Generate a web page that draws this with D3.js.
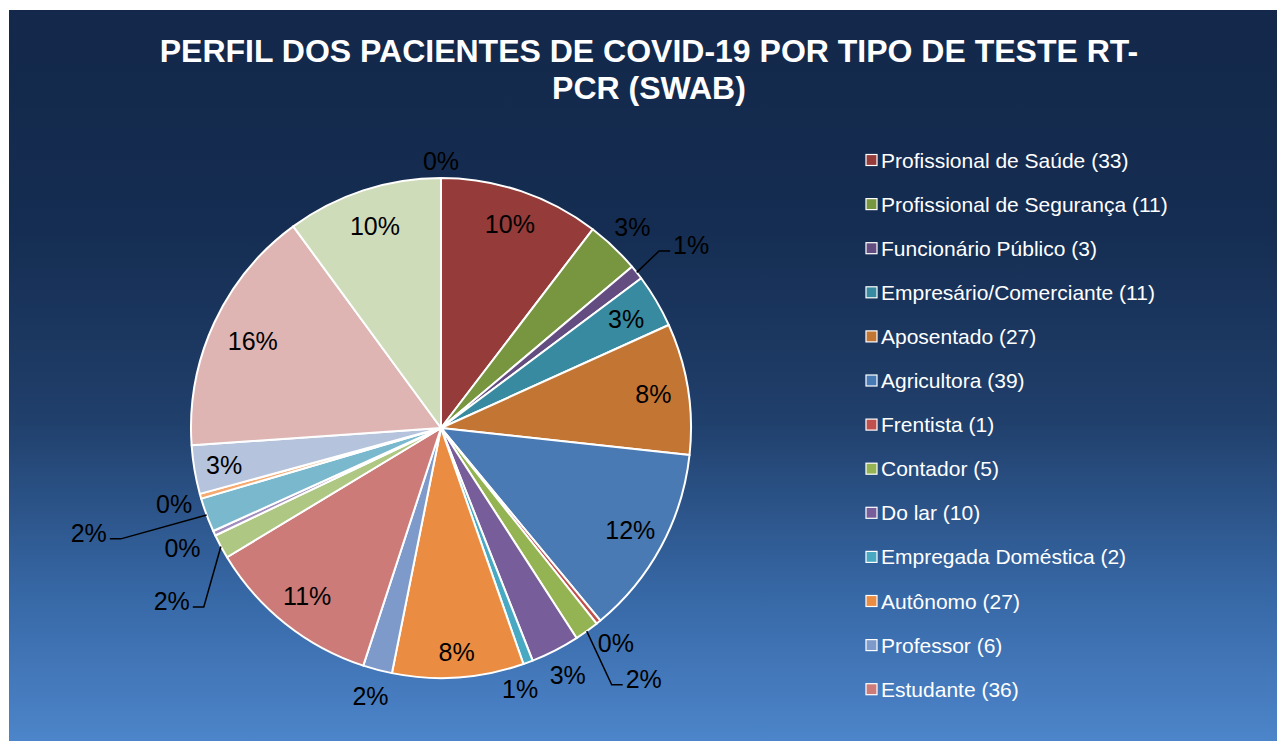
<!DOCTYPE html>
<html>
<head>
<meta charset="utf-8">
<script src="https://cdn.jsdelivr.net/npm/d3@7"></script>
<style>
  html, body { margin: 0; padding: 0; background: #ffffff; }
  svg { display: block; }
  text { font-family: "Liberation Sans", Arial, sans-serif; }
</style>
</head>
<body>
<svg id="chart" width="1278" height="741"></svg>
<script>
// ---- DATA ----
const titleLines = ["PERFIL DOS PACIENTES DE COVID-19 POR TIPO DE TESTE RT-", "PCR (SWAB)"];
const categories = [
  "Profissional de Saúde", "Profissional de Segurança", "Funcionário Público",
  "Empresário/Comerciante", "Aposentado", "Agricultora", "Frentista", "Contador",
  "Do lar", "Empregada Doméstica", "Autônomo", "Professor", "Estudante",
  "Categoria 14", "Categoria 15", "Categoria 16", "Categoria 17",
  "Categoria 18", "Categoria 19", "Categoria 20", "Categoria 21"
];
const values = [33, 11, 3, 11, 27, 39, 1, 5, 10, 2, 27, 6, 36, 5, 1, 7, 1, 10, 51, 32, 0];
const legendVisibleCount = 13; // legend is clipped after the 13th entry
const colors = [
  "#953b39", "#789540", "#634c80", "#378a9f", "#c37533", "#4a7ab3", "#c0504d",
  "#94b454", "#775d9a", "#4aa9c2", "#ea8d43", "#7d9acb", "#cc7b79",
  "#aec782", "#a28ebe", "#7ab8cd", "#f6aa70", "#b6c3dd", "#dfb5b4", "#cfdcba", "#e0e0e0"
];

// ---- LABEL LAYOUT (style) ----
const labelLayout = [
  {m: "in"}, {m: "out"}, {m: "lead", r: 1.24, shift: 2.3}, {m: "in"}, {m: "in"},
  {m: "in"}, {m: "out"}, {m: "lead", r: 1.29, shift: -3.3}, {m: "out"}, {m: "out", r: 1.09, shift: 3.5},
  {m: "in", r: 0.9}, {m: "out"}, {m: "in"}, {m: "lead", r: 1.28, shift: -4.4}, {m: "out", r: 1.14},
  {m: "lead", r: 1.47, shift: 3.8}, {m: "out"}, {m: "in", r: 0.88}, {m: "in", r: 0.83}, {m: "in", r: 0.85}, {m: "out", r: 1.07}
];

const W = 1278, H = 741;
const svg = d3.select("#chart");

// background gradient
const defs = svg.append("defs");
const grad = defs.append("linearGradient").attr("id", "bg").attr("x1", 0).attr("y1", 0).attr("x2", 0).attr("y2", 1);
[[0, "#13284a"], [0.3, "#152d52"], [0.56, "#203f6b"], [0.8, "#3768a6"], [1, "#4d85ca"]]
  .forEach(([o, c]) => grad.append("stop").attr("offset", o).attr("stop-color", c));
svg.append("rect").attr("x", 9).attr("y", 10).attr("width", W - 10).attr("height", H - 10).attr("fill", "url(#bg)");

// title
svg.append("text")
  .attr("x", 649).attr("y", 62)
  .attr("text-anchor", "middle")
  .attr("fill", "#ffffff")
  .attr("font-size", 32).attr("font-weight", "bold")
  .selectAll("tspan").data(titleLines).join("tspan")
  .attr("x", 649).attr("dy", (d, i) => i === 0 ? 0 : 37)
  .text(d => d);

// pie
const cx = 441, cy = 428, R = 250;
const total = d3.sum(values);
const pie = d3.pie().sort(null).value(d => d)(values);
const arc = d3.arc().innerRadius(0).outerRadius(R);
const g = svg.append("g").attr("transform", `translate(${cx},${cy})`);

g.selectAll("path.slice").data(pie).join("path")
  .attr("class", "slice")
  .attr("d", arc)
  .attr("fill", (d, i) => colors[i])
  .attr("stroke", "#ffffff")
  .attr("stroke-width", (d) => d.value > 0 ? 2 : 0)
  .attr("stroke-linejoin", "round");

function polar(angle, r) { return [Math.sin(angle) * r, -Math.cos(angle) * r]; }

const fmt = v => Math.round(v / total * 100) + "%";

pie.forEach((d, i) => {
  const lay = labelLayout[i];
  const mid = (d.startAngle + d.endAngle) / 2;
  const sh = (lay.shift || 0) * Math.PI / 180;
  let pos;
  if (lay.m === "in") pos = polar(mid + sh, R * (lay.r || 0.86));
  else if (lay.m === "out") pos = polar(mid + sh, R * (lay.r || 1.11));
  else pos = polar(mid + sh, R * lay.r);

  const t = g.append("text")
    .attr("x", pos[0]).attr("y", pos[1] + 9)
    .attr("text-anchor", "middle")
    .attr("font-size", 25)
    .attr("fill", "#000000")
    .text(fmt(d.value));

  if (lay.m === "lead") {
    const w = t.node().getComputedTextLength();
    const start = polar(mid, R);
    const right = pos[0] > 0;
    const ly = pos[1] + 6;
    const endX = right ? pos[0] - w / 2 - 3 : pos[0] + w / 2 + 3;
    const elbowX = right ? endX - 11 : endX + 11;
    g.insert("path", "text")
      .attr("d", d3.line()([start, [elbowX, ly], [endX, ly]]))
      .attr("fill", "none")
      .attr("stroke", "#000000")
      .attr("stroke-width", 1.5);
  }
});

// legend
const legendData = categories.slice(0, legendVisibleCount).map((c, i) => ({name: c, value: values[i], color: colors[i]}));
const lg = svg.append("g");
const rowY = i => 160 + i * 44.1;
lg.selectAll("rect").data(legendData).join("rect")
  .attr("x", 866).attr("y", (d, i) => rowY(i) - 5.5)
  .attr("width", 11).attr("height", 11)
  .attr("fill", d => d.color)
  .attr("stroke", "#ffffff").attr("stroke-width", 1.2);
lg.selectAll("text").data(legendData).join("text")
  .attr("x", 881).attr("y", (d, i) => rowY(i) + 7.5)
  .attr("font-size", 21)
  .attr("fill", "#ffffff")
  .text(d => `${d.name} (${d.value})`);
</script>
</body>
</html>
